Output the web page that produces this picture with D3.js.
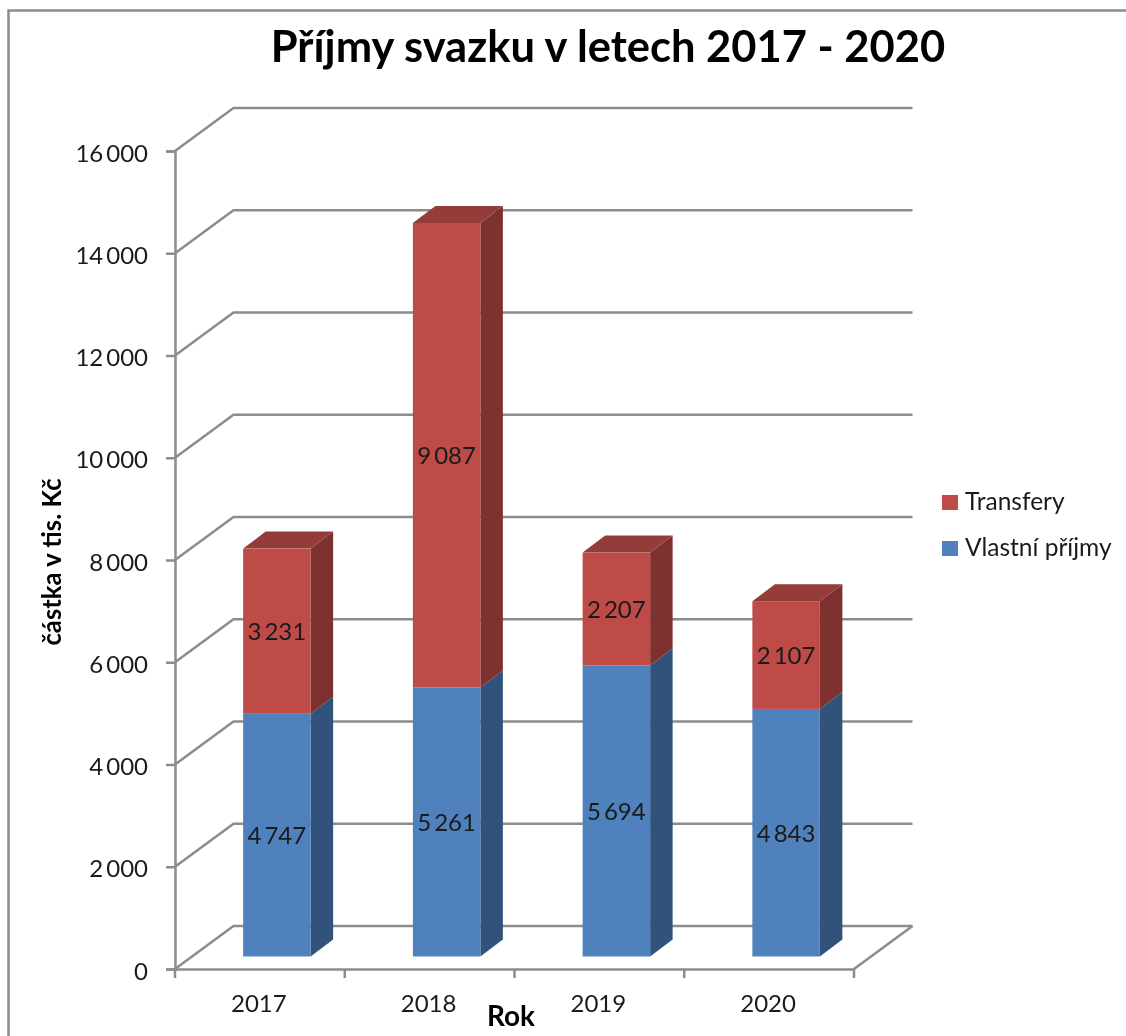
<!DOCTYPE html>
<html>
<head>
<meta charset="utf-8">
<script src="https://cdn.jsdelivr.net/npm/d3@7"></script>
<style>
  html, body { margin: 0; padding: 0; background: #fff; }
  text { font-family: Lato, "Open Sans", sans-serif; fill: #1a1a1a; }
  svg { filter: blur(0.5px); }
</style>
</head>
<body>
<div id="chart"></div>
<script>
var years = ['2017', '2018', '2019', '2020']
var vlastni = [4747, 5261, 5694, 4843]
var transfery = [3231, 9087, 2207, 2107]
var seriesNames = ['Vlastní příjmy', 'Transfery']
var yTicks = [0, 2000, 4000, 6000, 8000, 10000, 12000, 14000, 16000]

var width = 1126, height = 1036

var svg = d3.select('#chart').append('svg')
    .attr('width', width)
    .attr('height', height)
    .style('display', 'block')

// outer frame, runs off the bottom of the picture
svg.append('rect')
    .attr('x', 8.5).attr('y', 10.5)
    .attr('width', 1140).attr('height', 1060)
    .attr('fill', 'none').attr('stroke', '#8c8c8c').attr('stroke-width', 2.5)

var x = d3.scaleBand().domain(years).range([175, 854])
var y = d3.scaleLinear().domain([0, 16000]).range([969, 151])

// depth of the floor and depth of the bars
var wallDx = 58.5, wallDy = -43
var barDx = 22.5, barDy = -17
var floorDx = 17, floorDy = -12.5
var barW = 67.5

var gridColor = '#8c8c8c'

// back wall lines with the slanted part on the side wall
svg.append('g').selectAll('path')
    .data(yTicks)
    .enter().append('path')
    .attr('fill', 'none')
    .attr('stroke', gridColor)
    .attr('stroke-width', 2.5)
    .attr('d', d => {
        let p = d3.path()
        p.moveTo(175, y(d))
        p.lineTo(175 + wallDx, y(d) + wallDy)
        p.lineTo(854 + wallDx, y(d) + wallDy)
        return p.toString()
    })

// floor right edge
svg.append('line')
    .attr('x1', 854).attr('y1', y(0))
    .attr('x2', 854 + wallDx).attr('y2', y(0) + wallDy)
    .attr('stroke', gridColor).attr('stroke-width', 2.5)

var fmt = d => d3.format(',')(d).replace(',', '\u2009')

var yAxis = svg.append('g')
    .attr('transform', 'translate(175,0)')
    .call(d3.axisLeft(y).tickValues(yTicks).tickSize(9).tickPadding(18).tickFormat(fmt))
yAxis.selectAll('text')
    .attr('font-size', 24)
    .attr('dy', '0.42em')
    .style('font-family', 'Lato')

var xAxis = svg.append('g')
    .attr('transform', 'translate(0,' + y(0) + ')')
    .call(d3.axisBottom(x).tickValues([]).tickSize(0))
xAxis.selectAll('.cat')
    .data(years)
    .enter().append('text')
    .attr('class', 'cat')
    .attr('x', d => x(d) + x.bandwidth() / 2 - 1)
    .attr('y', 43)
    .attr('text-anchor', 'middle')
    .attr('font-size', 24)
    .text(d => d)
xAxis.selectAll('.sep')
    .data(d3.range(years.length + 1))
    .enter().append('line')
    .attr('class', 'sep')
    .attr('x1', i => 175 + i * x.bandwidth())
    .attr('x2', i => 175 + i * x.bandwidth())
    .attr('y1', 0).attr('y2', 9)
    .attr('stroke', gridColor).attr('stroke-width', 2.5)

svg.selectAll('.domain').attr('stroke', gridColor).attr('stroke-width', 2.5)
svg.selectAll('.tick line').attr('stroke', gridColor).attr('stroke-width', 2.5)

// height on the bar front face, which stands a little way into the floor
var h = d => y(0) - y(d)
var base = y(0) + floorDy

function drawSegment(yearIdx, start, value, front, side, top, drawTop) {
    var left = x(years[yearIdx]) + x.bandwidth() / 2 + floorDx - barW / 2
    var right = left + barW
    var y0 = base - h(start)
    var y1 = base - h(start + value)
    var g = svg.append('g')

    g.append('path')
        .attr('fill', side)
        .attr('d', `M${right},${y0}L${right + barDx},${y0 + barDy}L${right + barDx},${y1 + barDy}L${right},${y1}Z`)
    if (drawTop) {
        g.append('path')
            .attr('fill', top)
            .attr('d', `M${left},${y1}L${left + barDx},${y1 + barDy}L${right + barDx},${y1 + barDy}L${right},${y1}Z`)
    }
    g.append('rect')
        .attr('x', left).attr('y', y1)
        .attr('width', barW).attr('height', y0 - y1)
        .attr('fill', front)
    g.append('text')
        .attr('x', (left + right) / 2)
        .attr('y', (y0 + y1) / 2)
        .attr('dy', '0.38em')
        .attr('text-anchor', 'middle')
        .attr('font-size', 24)
        .text(fmt(value))
}

years.forEach((yr, i) => {
    drawSegment(i, 0, vlastni[i], '#4f81bd', '#31527a', '#3a6496', false)
    drawSegment(i, vlastni[i], transfery[i], '#be4b48', '#7d3230', '#943c39', true)
})

// title and axis titles
svg.append('text')
    .attr('x', 608).attr('y', 62)
    .attr('text-anchor', 'middle')
    .attr('font-size', 43.5)
    .attr('font-weight', 700)
    .style('fill', '#000')
    .text('Příjmy svazku v letech 2017 - 2020')

svg.append('text')
    .attr('x', 511).attr('y', 1026)
    .attr('text-anchor', 'middle')
    .attr('font-size', 28)
    .attr('font-weight', 700)
    .style('fill', '#000')
    .text('Rok')

svg.append('text')
    .attr('transform', 'translate(61,562) rotate(-90)')
    .attr('text-anchor', 'middle')
    .attr('font-size', 25.7)
    .attr('font-weight', 700)
    .style('fill', '#000')
    .text('částka v tis. Kč')

// legend
var legendItems = [
    { name: seriesNames[1], color: '#be4b48' },
    { name: seriesNames[0], color: '#4f81bd' }
]
var legend = svg.append('g').selectAll('g')
    .data(legendItems)
    .enter().append('g')
    .attr('transform', (d, i) => 'translate(942,' + (495 + i * 46) + ')')
legend.append('rect')
    .attr('width', 16).attr('height', 15)
    .attr('fill', d => d.color)
legend.append('text')
    .attr('x', 23).attr('y', 15)
    .attr('font-size', 24.5)
    .text(d => d.name)
</script>
</body>
</html>
